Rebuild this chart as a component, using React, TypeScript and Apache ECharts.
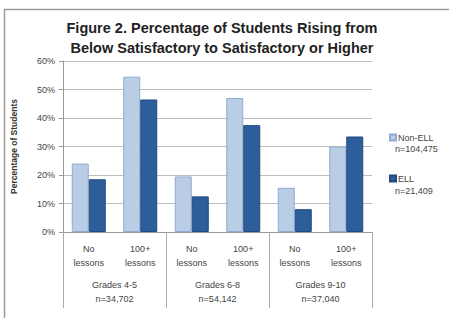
import React, { useEffect, useRef } from "react";
import * as echarts from "echarts";

const lessonLabels = ["No\nlessons", "100+\nlessons", "No\nlessons", "100+\nlessons", "No\nlessons", "100+\nlessons"];
const gradeLabels = ["Grades 4-5\nn=34,702", "Grades 6-8\nn=54,142", "Grades 9-10\nn=37,040"];
const nonEll = [24, 54.5, 19.5, 47, 15.5, 30];
const ell = [18.5, 46.5, 12.5, 37.5, 8, 33.5];
const seriesNames = ["Non-ELL", "ELL"];
const seriesCounts = ["n=104,475", "n=21,409"];
const yTicks = { min: 0, max: 60, interval: 10 };

const FONT = "'Liberation Sans', Arial, sans-serif";

export default function App() {
  const ref = useRef<HTMLDivElement>(null);
  useEffect(() => {
    document.body.style.margin = "0";
    const chart = echarts.init(ref.current!, undefined, { renderer: "svg" });
    chart.setOption({
      animation: false,
      textStyle: { fontFamily: FONT },
      title: {
        text: "Figure 2. Percentage of Students Rising from\nBelow Satisfactory to Satisfactory or Higher",
        left: 217,
        top: 13,
        textAlign: "center",
        textStyle: { fontSize: 14.5, fontWeight: "bold", color: "#222", lineHeight: 20, fontFamily: FONT },
      },
      grid: { left: 63, right: 77, top: 61, bottom: 86 },
      legend: {
        orient: "vertical",
        left: 384,
        top: 128,
        itemWidth: 6,
        itemHeight: 6,
        itemGap: 32,
        icon: "rect",
        data: seriesNames,
        textStyle: { fontSize: 9, color: "#444", fontFamily: FONT, padding: [0, 0, 0, -3] },
      },
      xAxis: [
        {
          type: "category",
          data: lessonLabels,
          axisLine: { lineStyle: { color: "#999" } },
          axisTick: { show: false },
          axisLabel: { fontSize: 9, color: "#444", lineHeight: 14, margin: 10, interval: 0 },
        },
        {
          type: "category",
          data: gradeLabels,
          position: "bottom",
          axisLine: { show: false },
          axisTick: { show: true, length: 76, lineStyle: { color: "#aaa" } },
          axisLabel: { fontSize: 9, color: "#444", lineHeight: 14, margin: 46, interval: 0 },
        },
      ],
      yAxis: {
        type: "value",
        min: yTicks.min,
        max: yTicks.max,
        interval: yTicks.interval,
        name: "Percentage of Students",
        nameLocation: "middle",
        nameGap: 45,
        nameTextStyle: { fontSize: 8.5, fontWeight: "bold", color: "#333", fontFamily: FONT },
        axisLine: { show: true, lineStyle: { color: "#999" } },
        axisTick: { show: true, length: 4, lineStyle: { color: "#999" } },
        axisLabel: { formatter: "{value}%", fontSize: 9, color: "#444", margin: 8 },
        splitLine: { lineStyle: { color: "#bdbdbd" } },
      },
      series: [
        {
          name: seriesNames[0],
          type: "bar",
          data: nonEll,
          barWidth: 17,
          barGap: "0%",
          itemStyle: { color: "#b9cde5", borderColor: "#8faad3", borderWidth: 1 },
        },
        {
          name: seriesNames[1],
          type: "bar",
          data: ell,
          barWidth: 17,
          barGap: "0%",
          itemStyle: { color: "#2d5e9c", borderColor: "#224a7e", borderWidth: 1 },
        },
      ],
      graphic: [
        {
          type: "rect",
          shape: { x: 4.5, y: 9.5, width: 470, height: 330 },
          style: { fill: "none", stroke: "#9a9a9a", lineWidth: 1.5 },
          silent: true,
        },
        {
          type: "text",
          left: 395,
          top: 144,
          style: { text: seriesCounts[0], fontSize: 9, fill: "#444", fontFamily: FONT },
        },
        {
          type: "text",
          left: 395,
          top: 186,
          style: { text: seriesCounts[1], fontSize: 9, fill: "#444", fontFamily: FONT },
        },
      ],
    });
    return () => chart.dispose();
  }, []);
  return <div ref={ref} style={{ width: 449, height: 318 }} />;
}
